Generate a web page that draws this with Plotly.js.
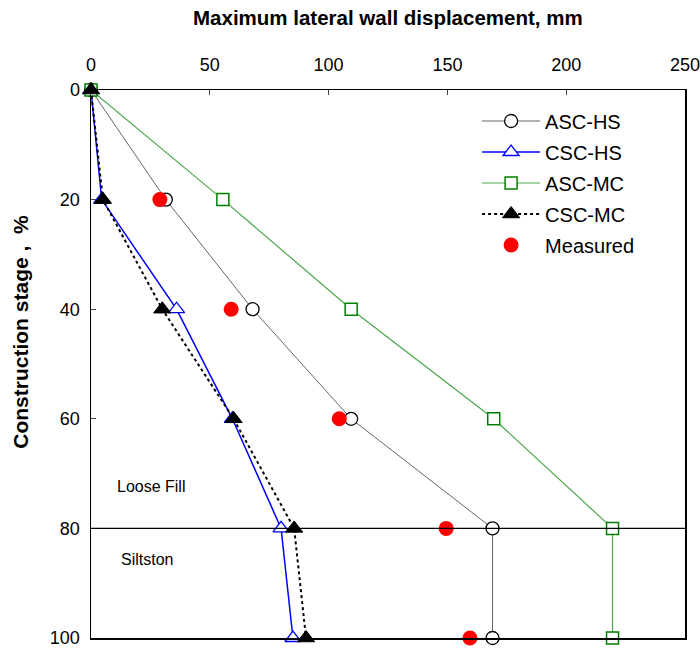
<!DOCTYPE html>
<html>
<head>
<meta charset="utf-8">
<script src="https://cdn.plot.ly/plotly-3.0.1.min.js"></script>
<style>html,body{margin:0;padding:0;background:#fff;}#chart{width:700px;height:648px;}</style>
</head>
<body>
<div id="chart"></div>
<script>
const stages = [0, 20, 40, 60, 80, 100];
const ascHS = [0, 31.5, 68, 109.5, 169, 169];
const cscHS = [0, 4.5, 36, 59.5, 80, 85];
const ascMC = [0, 55.5, 109.5, 169.5, 219.5, 219.5];
const cscMC = [0, 5, 30, 60, 85.5, 90.5];
const measured = [-1, 29, 59, 104.5, 149.5, 159.5];
const xTicks = [0, 50, 100, 150, 200, 250];
const yTicks = [0, 20, 40, 60, 80, 100];
const layerLabels = ["Loose Fill", "Siltston"];
const layerLabelX = [25.3, 23.6];
const layerLabelY = [72.3, 85.6];
const boundary = 80;

const font = "Liberation Sans, Arial, sans-serif";

const traces = [
  {name: "ASC-HS", legendgroup: "a", x: ascHS, y: stages, mode: "lines+markers", cliponaxis: false,
   line: {color: "#666666", width: 1},
   marker: {symbol: "circle", size: 13, color: "#ffffff", line: {color: "#000000", width: 1.3}}},
  {name: "CSC-HS", legendgroup: "b", x: cscHS, y: stages, mode: "lines+markers", cliponaxis: false,
   line: {color: "#0000ff", width: 1.5},
   marker: {symbol: "triangle-up", size: 14, color: "#ffffff", line: {color: "#0000ff", width: 1.3}}},
  {name: "ASC-MC", legendgroup: "c", x: ascMC, y: stages, mode: "lines+markers", cliponaxis: false,
   line: {color: "#4aa84a", width: 1.2},
   marker: {symbol: "square", size: 12, color: "#ffffff", line: {color: "#008000", width: 1.5}}},
  {name: "CSC-MC", legendgroup: "d", x: cscMC, y: stages, mode: "lines+markers", cliponaxis: false,
   line: {color: "#000000", width: 2, dash: "dot"},
   marker: {symbol: "triangle-up", size: 15, color: "#000000", line: {color: "#000000", width: 1}}},
  {name: "Measured", legendgroup: "e", x: measured, y: stages, mode: "markers", cliponaxis: false,
   marker: {symbol: "circle", size: 15, color: "#ff0000", line: {width: 0}}}
];

const layout = {
  width: 700, height: 648,
  margin: {l: 91, r: 15, t: 90, b: 10},
  paper_bgcolor: "#ffffff", plot_bgcolor: "#ffffff",
  font: {family: font, color: "#000000", size: 18},
  showlegend: true,
  legend: {x: 0.65, y: 0.979, xanchor: "left", yanchor: "top", bgcolor: "rgba(0,0,0,0)",
           font: {family: font, size: 20}, tracegroupgap: 2, itemwidth: 58},
  xaxis: {side: "top", range: [0, 250], tickvals: xTicks, ticks: "inside", ticklen: 5,
          showgrid: false, zeroline: false, showline: true, linecolor: "#000", linewidth: 1.5,
          mirror: true, ticklabelstandoff: 10, ticklabeloverflow: "allow",
          tickfont: {family: font, size: 18}},
  yaxis: {range: [100, 0], tickvals: yTicks, ticks: "inside", ticklen: 5,
          showgrid: false, zeroline: false, showline: true, linecolor: "#000", linewidth: 1.5,
          mirror: true, ticklabelstandoff: 6, ticklabeloverflow: "allow",
          tickfont: {family: font, size: 18}},
  shapes: [{type: "line", xref: "paper", x0: 0, x1: 1, yref: "y", y0: boundary, y1: boundary,
            line: {color: "#000", width: 1.2}}],
  annotations: [
    {text: "<b>Maximum lateral wall displacement, mm</b>", xref: "paper", yref: "paper",
     x: 0.5, y: 1, xanchor: "center", yanchor: "middle", yshift: 73, showarrow: false,
     font: {family: font, size: 20.5}},
    {text: "<b>Construction stage ,  %</b>", xref: "paper", yref: "paper", textangle: -90,
     x: 0, xanchor: "center", yanchor: "middle", xshift: -70.5, y: 0.558, showarrow: false,
     font: {family: font, size: 21}},
    {text: layerLabels[0], xref: "x", yref: "y", x: layerLabelX[0], y: layerLabelY[0], showarrow: false,
     font: {family: font, size: 16}},
    {text: layerLabels[1], xref: "x", yref: "y", x: layerLabelX[1], y: layerLabelY[1], showarrow: false,
     font: {family: font, size: 16}}
  ]
};

Plotly.newPlot("chart", traces, layout, {displayModeBar: false, staticPlot: true});
</script>
</body>
</html>
